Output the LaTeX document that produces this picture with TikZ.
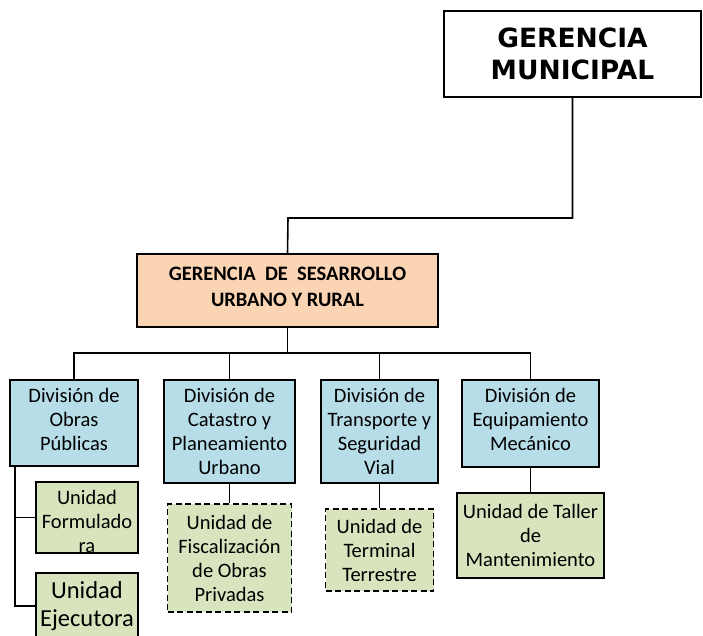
\documentclass[tikz,border=0pt]{standalone}
\usepackage{fontspec}
\setmainfont{Carlito}
\newfontfamily\titlefont{DejaVu Sans}
\definecolor{divblue}{HTML}{B7DDE8}
\definecolor{unigreen}{HTML}{D7E4BD}
\definecolor{gerorange}{HTML}{FBD4B4}
\begin{document}
\begin{tikzpicture}[x=1pt,y=-1pt,
  box/.style={draw=black,line width=1.6pt,align=center,inner sep=0pt,minimum width=#1},
  divbox/.style={box=#1,fill=divblue,font=\fontsize{20.5}{24}\selectfont},
  unibox/.style={box=#1,fill=unigreen,font=\fontsize{20.5}{24}\selectfont},
  dashbox/.style={unibox=#1,dash pattern=on 6pt off 3.5pt},
  conn/.style={line width=1.6pt}]
\useasboundingbox (0,0) rectangle (703,635);
\clip (0,0) rectangle (703,635);
\node[box=257pt,minimum height=86pt,font=\titlefont\bfseries\fontsize{26.5}{32}\selectfont] (gm) at (572.5,54) {GERENCIA\\MUNICIPAL};
\node[box=301pt,minimum height=73pt,fill=gerorange,text depth=8pt,font=\bfseries\fontsize{20.5}{26}\selectfont] (gd) at (287.5,290.5) {GERENCIA\ \ DE\ \ SESARROLLO\\URBANO Y RURAL};
\node[divbox=128pt,minimum height=86pt,text depth=8pt] (d1) at (74,423) {División de\\Obras\\Públicas};
\node[divbox=131pt,minimum height=103pt] (d2) at (229.5,431.5) {División de\\Catastro y\\Planeamiento\\Urbano};
\node[divbox=117pt,minimum height=103pt] (d3) at (379.5,431.5) {División de\\Transporte y\\Seguridad\\Vial};
\node[divbox=137pt,minimum height=87pt,text depth=8pt] (d4) at (530.5,423.5) {División de\\Equipamiento\\Mecánico};
\node[unibox=102pt,minimum height=71pt,text height=70pt] (u1) at (87,517.5) {Unidad\\Formulado\\ra};
\node[unibox=102pt,minimum height=66pt,font=\fontsize{24.5}{28}\selectfont] (u2) at (87,606) {Unidad\\Ejecutora};
\node[dashbox=124pt,minimum height=108pt] (u3) at (229.5,558) {Unidad de\\Fiscalización\\de Obras\\Privadas};
\node[dashbox=108pt,minimum height=82pt] (u4) at (379.5,550) {Unidad de\\Terminal\\Terrestre};
\node[unibox=147pt,minimum height=85pt] (u5) at (530.5,535.5) {Unidad de Taller\\de\\Mantenimiento};
\coordinate (j1) at (288,218);
\coordinate (bus) at (0,353);
\coordinate (v) at (15,466);
\draw[conn] (gm.south) |- (j1) -- (gd.north);
\draw[conn] (gd.south) -- (gd.south |- bus);
\draw[conn] (d1.north) |- (d4.north |- bus) -- (d4.north);
\draw[conn] (d2.north) -- (d2.north |- bus);
\draw[conn] (d3.north) -- (d3.north |- bus);
\draw[conn] (v) |- (u1.west);
\draw[conn] (v) |- (u2.west);
\draw[conn] (d2.south) -- (u3.north);
\draw[conn] (d3.south) -- (u4.north);
\draw[conn] (d4.south) -- (u5.north);
\end{tikzpicture}
\end{document}
